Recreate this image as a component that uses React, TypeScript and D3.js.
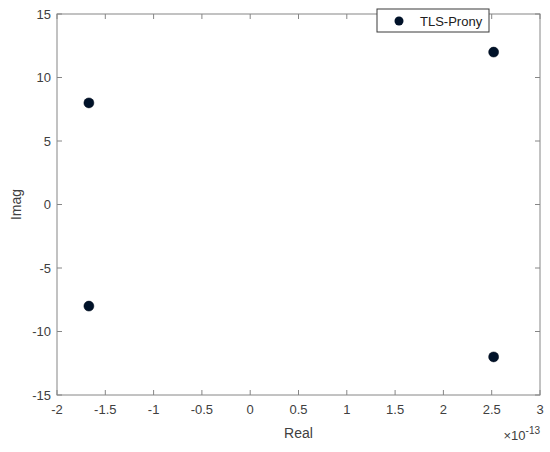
import React, { useEffect, useRef } from "react";
import * as d3 from "d3";

// pole locations (real part in units of 1e-13)
const realParts = [-1.67, -1.67, 2.52, 2.52];
const imagParts = [8, -8, 12, -12];
const xTicks = [-2, -1.5, -1, -0.5, 0, 0.5, 1, 1.5, 2, 2.5, 3];
const yTicks = [-15, -10, -5, 0, 5, 10, 15];
const seriesName = "TLS-Prony";

const W = 550;
const H = 452;
const margin = { top: 14, right: 10, bottom: 57, left: 57 };

export default function App() {
  const ref = useRef<SVGSVGElement>(null);

  useEffect(() => {
    const svg = d3.select(ref.current);
    svg.selectAll("*").remove();

    const innerW = W - margin.left - margin.right;
    const innerH = H - margin.top - margin.bottom;
    const axisColor = "#868686";
    const textColor = "#404040";
    const font = "'Liberation Sans', Arial, sans-serif";

    const x = d3.scaleLinear().domain([-2, 3]).range([0, innerW]);
    const y = d3.scaleLinear().domain([-15, 15]).range([innerH, 0]);

    const g = svg.append("g").attr("transform", `translate(${margin.left},${margin.top})`);

    // box
    g.append("rect")
      .attr("width", innerW)
      .attr("height", innerH)
      .attr("fill", "white")
      .attr("stroke", axisColor)
      .attr("stroke-width", 1);

    const tickLen = 5;
    // inward ticks on all four sides
    xTicks.forEach((t) => {
      g.append("line").attr("x1", x(t)).attr("x2", x(t)).attr("y1", innerH).attr("y2", innerH - tickLen).attr("stroke", axisColor);
      g.append("line").attr("x1", x(t)).attr("x2", x(t)).attr("y1", 0).attr("y2", tickLen).attr("stroke", axisColor);
      g.append("text")
        .attr("x", x(t))
        .attr("y", innerH + 19)
        .attr("text-anchor", "middle")
        .attr("font-family", font)
        .attr("font-size", 13)
        .attr("fill", textColor)
        .text(String(t));
    });
    yTicks.forEach((t) => {
      g.append("line").attr("x1", 0).attr("x2", tickLen).attr("y1", y(t)).attr("y2", y(t)).attr("stroke", axisColor);
      g.append("line").attr("x1", innerW).attr("x2", innerW - tickLen).attr("y1", y(t)).attr("y2", y(t)).attr("stroke", axisColor);
      g.append("text")
        .attr("x", -6)
        .attr("y", y(t))
        .attr("dy", "0.35em")
        .attr("text-anchor", "end")
        .attr("font-family", font)
        .attr("font-size", 13)
        .attr("fill", textColor)
        .text(String(t));
    });

    // points
    g.selectAll("circle.pt")
      .data(realParts.map((r, i) => ({ r, im: imagParts[i] })))
      .join("circle")
      .attr("class", "pt")
      .attr("cx", (d) => x(d.r))
      .attr("cy", (d) => y(d.im))
      .attr("r", 5)
      .attr("fill", "#001229")
      .attr("stroke", "#000a1a")
      .attr("stroke-width", 0.5);

    // axis labels
    g.append("text")
      .attr("x", innerW / 2)
      .attr("y", innerH + 43)
      .attr("text-anchor", "middle")
      .attr("font-family", font)
      .attr("font-size", 14)
      .attr("fill", textColor)
      .text("Real");

    g.append("text")
      .attr("transform", `translate(-36,${innerH / 2}) rotate(-90)`)
      .attr("text-anchor", "middle")
      .attr("font-family", font)
      .attr("font-size", 14)
      .attr("fill", textColor)
      .text("Imag");

    // exponent
    const ex = g.append("text")
      .attr("x", innerW)
      .attr("y", innerH + 45)
      .attr("text-anchor", "end")
      .attr("font-family", font)
      .attr("font-size", 13)
      .attr("fill", textColor);
    ex.append("tspan").text("\u00d710");
    ex.append("tspan").attr("dy", -6).attr("font-size", 10).text("-13");

    // legend
    const lg = svg.append("g").attr("transform", `translate(377,9)`);
    lg.append("rect")
      .attr("width", 112)
      .attr("height", 23)
      .attr("fill", "white")
      .attr("stroke", "#3a3a3a")
      .attr("stroke-width", 1);
    lg.append("circle").attr("cx", 22).attr("cy", 12).attr("r", 4.5).attr("fill", "#001229");
    lg.append("text")
      .attr("x", 43)
      .attr("y", 12)
      .attr("dy", "0.35em")
      .attr("font-family", font)
      .attr("font-size", 13)
      .attr("fill", "#202020")
      .text(seriesName);
  }, []);

  return (
    <svg
      ref={ref}
      width={W}
      height={H}
      style={{ position: "absolute", left: 0, top: 0, background: "white" }}
    />
  );
}
